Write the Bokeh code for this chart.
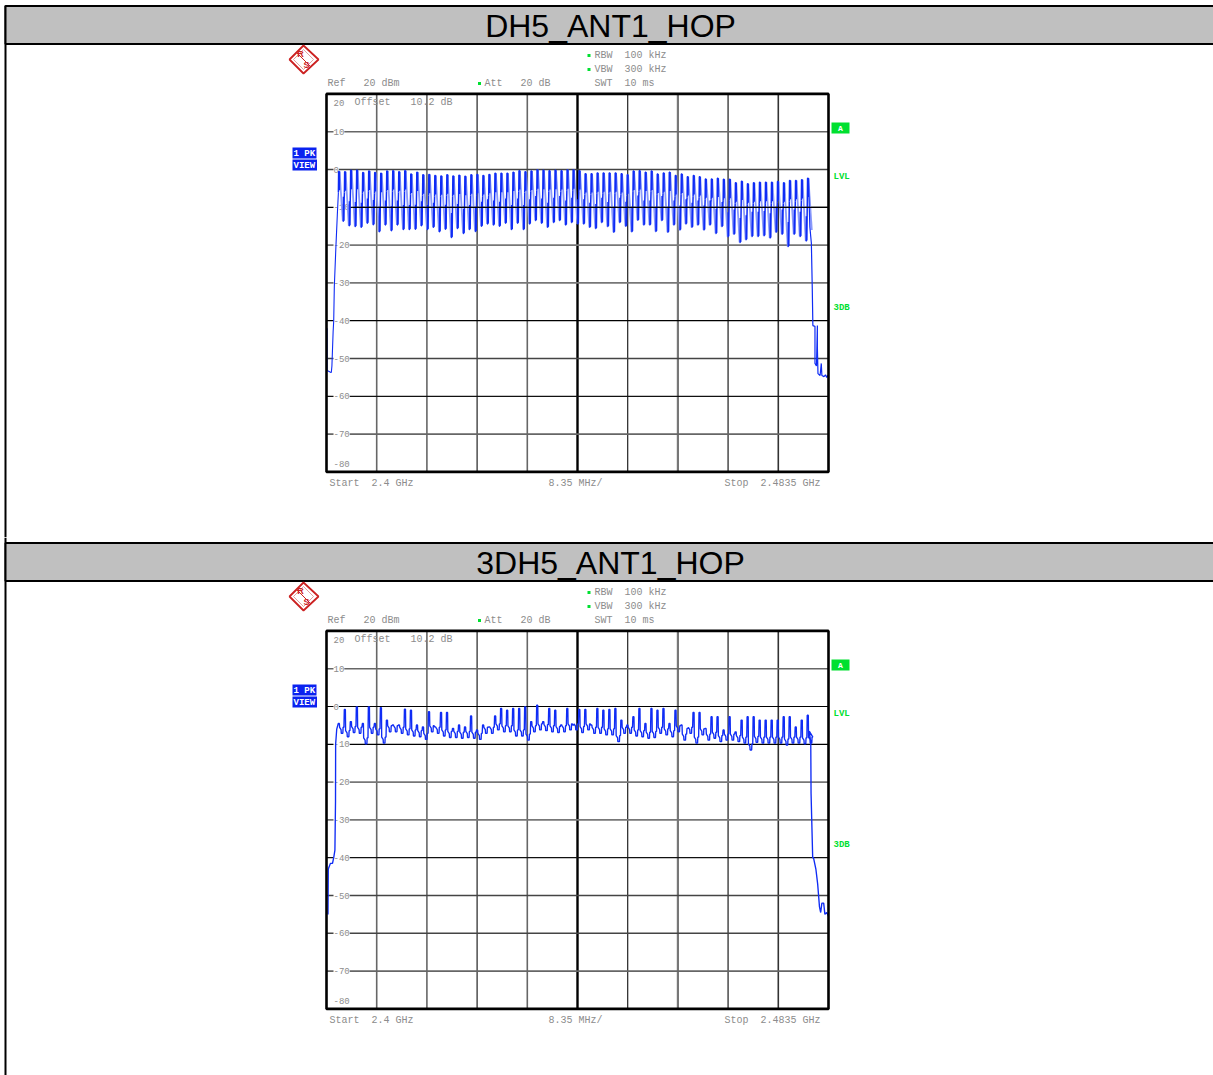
from bokeh.plotting import figure
from bokeh.layouts import column
from bokeh.models import Range1d
from bokeh.core.properties import value
from bokeh.embed import file_html
from bokeh.resources import INLINE

titles = ["DH5_ANT1_HOP", "3DH5_ANT1_HOP"]
start_ghz = 2.4
stop_ghz = 2.4835
first_channel_ghz = 2.402
channel_step_ghz = 0.001

grid_freqs = [2.40835, 2.4167, 2.42505, 2.4334, 2.44175, 2.4501, 2.45845, 2.4668, 2.47515]
grid_levels = [10, 0, -10, -20, -30, -40, -50, -60, -70]
tick_levels = [20, 10, 0, -10, -20, -30, -40, -50, -60, -70, -80]
tick_labels = ["20", "10", "0", "-10", "-20", "-30", "-40", "-50", "-60", "-70", "-80"]

top_peaks = [-0.5, -0.6, -0.2, -0.2, -0.8, -0.4, -0.8, -1.0, -0.4, -0.3,
             -0.6, -0.3, -1.2, -0.7, -1.4, -1.3, -1.6, -1.7, -1.4, -1.7,
             -1.5, -1.8, -1.4, -1.3, -1.6, -1.3, -1.0, -1.0, -1.0, -0.7,
             -0.3, -0.6, -0.4, -0.1, -0.2, -0.3, -0.2, -0.3, -0.1, -0.1,
             -0.3, -1.1, -1.1, -0.9, -0.9, -0.9, -0.9, -1.1, -1.4, -0.4,
             -0.3, -0.7, -0.4, -1.2, -0.9, -0.7, -1.6, -1.2, -1.9, -1.6,
             -1.9, -2.5, -2.5, -2.3, -2.6, -2.6, -3.5, -3.1, -3.8, -3.5,
             -3.4, -3.4, -3.4, -3.2, -3.5, -2.9, -2.9, -2.7, -2.3]
top_troughs = [-13.7, -14.9, -15.1, -15.3, -14.2, -14.6, -16.5, -14.7, -16.2, -14.7,
               -15.9, -15.9, -15.8, -14.9, -15.9, -15.3, -16.5, -15.8, -18.0, -15.6,
               -16.9, -15.9, -16.4, -15.0, -14.4, -14.7, -15.0, -14.2, -15.9, -14.2,
               -15.9, -14.4, -13.5, -14.2, -15.3, -14.0, -13.5, -14.7, -14.0, -14.4,
               -14.4, -15.3, -15.6, -14.0, -15.1, -16.6, -14.0, -15.0, -16.5, -13.4,
               -14.7, -14.7, -16.4, -13.5, -16.6, -14.7, -16.0, -14.4, -15.3, -14.7,
               -16.0, -14.7, -16.9, -15.1, -17.8, -17.1, -19.3, -18.6, -17.7, -17.7,
               -17.5, -18.1, -16.6, -17.1, -20.4, -17.1, -17.7, -18.9, -16.0]
top_lead_mhz = [0.1, 0.1, 0.6, 0.8, 0.9, 1.1, 1.2, 1.3, 1.55, 1.8]
top_lead_db = [-42.0, -53.2, -53.6, -53.7, -52.0, -43.0, -40.0, -31.0, -21.0, -12.0]
top_tail_mhz = [80.4, 80.65, 80.8, 80.9, 81.25, 81.25, 81.5, 81.65, 81.65, 81.75, 82.1, 82.3, 82.4, 82.75, 83.0, 83.2, 83.4, 83.5]
top_tail_db = [-15.2, -19.5, -31.5, -41.3, -41.5, -51.3, -52.0, -41.3, -47.0, -54.0, -54.5, -51.3, -54.5, -54.8, -54.3, -55.0, -54.4, -55.0]

bot_peaks = [-4.5, -0.8, -4.0, -0.1, -4.5, -0.1, -4.5, -0.3, -3.6, -4.9,
             -4.9, -0.7, -1.0, -4.9, -5.4, -1.4, -5.4, -1.6, -1.6, -5.8,
             -4.9, -5.4, -2.5, -6.2, -4.9, -5.4, -2.5, -0.5, -1.0, -0.5,
             -0.5, -0.1, -4.0, 0.35, -4.0, -0.5, -1.0, -4.9, -0.5, -4.9,
             -0.8, -0.8, -4.9, -0.5, -1.0, -0.8, -0.5, -3.6, -4.9, -2.7,
             -0.5, -4.5, -0.5, -1.0, -0.5, -4.5, -1.0, -4.9, -5.8, -1.6,
             -1.6, -5.8, -2.7, -2.7, -6.2, -2.7, -6.7, -3.6, -2.7, -2.7,
             -3.6, -3.6, -3.6, -3.6, -2.7, -2.7, -5.4, -3.6, -2.3]
bot_lows = [-7.1, -8.0, -6.9, -7.1, -9.9, -7.1, -7.5, -9.7, -6.7, -6.7,
            -7.1, -7.5, -7.8, -8.0, -8.7, -6.7, -7.1, -7.8, -8.2, -8.2,
            -8.4, -8.2, -8.4, -8.7, -7.1, -7.1, -6.2, -6.7, -6.7, -7.8,
            -7.8, -8.9, -6.7, -6.2, -6.4, -6.7, -6.9, -6.7, -6.2, -6.2,
            -6.9, -6.2, -7.1, -7.1, -7.5, -7.5, -9.3, -7.1, -7.1, -7.8,
            -8.0, -8.4, -8.2, -7.1, -7.5, -8.0, -6.7, -8.9, -7.1, -9.7,
            -7.5, -8.9, -8.4, -9.3, -8.9, -8.9, -9.3, -9.7, -11.5, -9.5,
            -9.7, -9.7, -9.7, -9.7, -10.2, -9.7, -9.7, -9.9, -9.7]
bot_lead_mhz = [0.25, 0.3, 0.65, 1.0, 1.2, 1.4, 1.5, 1.52, 1.7]
bot_lead_db = [-55.0, -43.0, -41.5, -41.5, -40.0, -38.0, -25.0, -10.0, -6.0]
bot_tail_mhz = [80.3, 80.55, 80.6, 80.87, 81.0, 81.4, 81.7, 82.0, 82.2, 82.4, 82.7, 82.9, 83.2, 83.5]
bot_tail_db = [-6.5, -9.5, -23.0, -40.0, -40.0, -43.0, -47.0, -53.0, -54.5, -52.0, -52.0, -55.0, -54.5, -55.5]

C_TRACE = "#0f2cf5"
C_LIGHT = "#8a9afb"
C_TEXT = "#8c8c8c"
C_GREEN = "#00e030"
C_BLUE = "#0a22f0"
C_RED = "#cc2222"
MONO = "Liberation Mono"

V_COLORS = ["#666666", "#666666", "#222222", "#666666", "#000000", "#222222", "#777777", "#555555", "#333333"]
V_WIDTHS = [1.6, 1.6, 1.2, 1.6, 2.4, 1.2, 2.2, 1.6, 1.6]
H_COLORS = [["#666666", "#444444", "#000000", "#777777", "#777777", "#000000", "#444444", "#111111", "#666666"],
            ["#666666", "#000000", "#000000", "#777777", "#777777", "#111111", "#444444", "#444444", "#666666"]]
H_WIDTHS = [[1.6, 1.5, 1.2, 1.8, 1.8, 1.2, 1.5, 1.2, 1.6],
            [1.6, 1.2, 1.2, 1.8, 1.8, 1.2, 1.5, 1.5, 1.6]]

FL, FR, FT, FB = 326, 828, 93.4, 471.4   # where the instrument screen sits, in figure pixels


def X(px):
    return start_ghz + (px - FL) / (FR - FL) * (stop_ghz - start_ghz)


def Y(py):
    return 20 - (py - FT) / (FB - FT) * 100


def mhz(values):
    return [start_ghz + m / 1000 for m in values]


def text(p, s, px, py, size=10, color=C_TEXT, font=MONO, align="left", style="normal"):
    p.text(x=[X(px)], y=[Y(py)], text=[s], text_font=value(font), text_font_size=f"{size}px",
           text_color=color, text_align=align, text_baseline="middle", text_font_style=style)


def box(p, l, r, t, b, fill, line=None, lw=0):
    p.quad(left=[X(l)], right=[X(r)], top=[Y(t)], bottom=[Y(b)], fill_color=fill,
           line_color=line, line_width=lw)


def draw_top_trace(p):
    m = channel_step_ghz
    fall_x0, fall_x1, fall_y0, fall_y1 = [], [], [], []
    dark_x, dark_y = [], []
    n = len(top_peaks)
    for i in range(n):
        f = first_channel_ghz + i * m
        pk, tr = top_peaks[i], top_troughs[i]
        fall_x0.append(f + .16 * m)
        fall_x1.append(f + .72 * m)
        fall_y0.append(pk)
        fall_y1.append(tr)
        dark_x.append([f - .02 * m, f + .02 * m, f + .12 * m, f + .14 * m, f + .16 * m])
        dark_y.append([pk - 5.5, pk, pk, pk - 5.0, pk])
        if i < n - 1:
            nxt = top_peaks[i + 1]
            dark_x.append([f + .72 * m, f + .80 * m, f + .82 * m, f + .84 * m, f + .90 * m, f + .94 * m, f + .98 * m])
            dark_y.append([tr, tr, tr + 6.5, tr + .2, tr + .2, tr + 6.0, nxt - 5.5])
    p.segment(x0=fall_x0, x1=fall_x1, y0=fall_y0, y1=fall_y1, line_color=C_LIGHT, line_width=1.8)
    p.multi_line(dark_x, dark_y, line_color=C_TRACE, line_width=1.5, line_join="bevel")
    p.line(mhz(top_lead_mhz) + [first_channel_ghz - .02 * m], top_lead_db + [top_peaks[0] - 5.5],
           line_color=C_TRACE, line_width=1.1, line_join="bevel")
    last = first_channel_ghz + (n - 1) * m
    p.line([last + .16 * m] + mhz(top_tail_mhz), [top_peaks[-1]] + top_tail_db, line_color=C_TRACE,
           line_width=1.2, line_join="bevel")
    # the reference level line stays visible through the trace
    p.segment(x0=[X(352)], x1=[stop_ghz], y0=[-10], y1=[-10], line_color="#000000", line_width=1.2)


def draw_bot_trace(p):
    m = channel_step_ghz
    xs = mhz(bot_lead_mhz)
    ys = list(bot_lead_db)
    for i, (pk, lo) in enumerate(zip(bot_peaks, bot_lows)):
        f = first_channel_ghz + i * m
        sh = lo + 1.6
        xs += [f - .04 * m, f + .14 * m, f + .18 * m, f + .42 * m, f + .46 * m, f + .72 * m, f + .76 * m, f + .9 * m]
        ys += [pk, pk, sh, sh - .6, lo, lo, sh, sh]
    xs += mhz(bot_tail_mhz)
    ys += bot_tail_db
    p.line(xs, ys, line_color=C_TRACE, line_width=1.35, line_join="bevel")


def panel(idx, height):
    p = figure(width=1213, height=height, output_backend="svg", toolbar_location=None,
               x_range=Range1d(X(0), X(1213)), y_range=Range1d(Y(height), Y(0)),
               min_border=0, x_axis_type=None, y_axis_type=None,
               outline_line_color=None, background_fill_color="white", border_fill_color="white")
    p.grid.visible = False

    # grid
    p.segment(x0=grid_freqs, x1=grid_freqs, y0=[-80] * 9, y1=[20] * 9, line_color=V_COLORS, line_width=V_WIDTHS)
    p.segment(x0=[start_ghz] * 9, x1=[stop_ghz] * 9, y0=grid_levels, y1=grid_levels,
              line_color=H_COLORS[idx], line_width=H_WIDTHS[idx])

    # level labels inside the screen
    offs = [9 if t == 20 else -8 if t == -80 else 0 for t in tick_levels]
    p.text(x=[X(333)] * 11, y=tick_levels, text=tick_labels, text_font=value(MONO), text_font_size="9px",
           text_color=C_TEXT, text_align="left", text_baseline="middle", y_offset=offs,
           background_fill_color="white")

    # trace
    if idx == 0:
        draw_top_trace(p)
    else:
        draw_bot_trace(p)

    # screen frame
    p.quad(left=[start_ghz], right=[stop_ghz], top=[20], bottom=[-80], fill_alpha=0, line_color="black", line_width=2.6)

    # page rule and header band
    box(p, 4, 6, 0 if idx else 5, height + 2, "black")
    box(p, 5, 1225, 5.5, 43.5, "#c0c0c0", "black", 2)
    text(p, titles[idx], 610, 25, size=32, color="black", font="Liberation Sans", align="center")

    # logo
    p.patch([X(289), X(303), X(318), X(303)], [Y(59), Y(45), Y(59), Y(73)], fill_color="white",
            line_color=C_RED, line_width=1.8)
    p.patch([X(293), X(303), X(313), X(303)], [Y(59), Y(49), Y(59), Y(69)], fill_alpha=0,
            line_color="#dd8888", line_width=0.8)
    p.line([X(296), X(310)], [Y(52), Y(66)], line_color=C_RED, line_width=1)
    text(p, "R", 300, 53, size=9, color=C_RED, font="Liberation Sans", align="center", style="bold")
    text(p, "S", 306, 64, size=9, color=C_RED, font="Liberation Sans", align="center", style="bold")

    # header texts
    text(p, "Ref\u00a0\u00a0\u00a020\u00a0dBm", 327, 83)
    text(p, "Att\u00a0\u00a0\u00a020\u00a0dB", 484, 83)
    text(p, "RBW\u00a0\u00a0100\u00a0kHz", 594, 55)
    text(p, "VBW\u00a0\u00a0300\u00a0kHz", 594, 69)
    text(p, "SWT\u00a0\u00a010\u00a0ms", 594, 83)
    text(p, "Offset", 354, 102)
    text(p, "10.2\u00a0dB", 410, 102)
    for gx, gy in [(588.5, 55), (588.5, 69), (479, 83)]:
        box(p, gx - 1.5, gx + 1.5, gy - 1.5, gy + 1.5, C_GREEN)

    # footer texts
    text(p, "Start\u00a0\u00a02.4\u00a0GHz", 329, 483)
    text(p, "8.35\u00a0MHz/", 548, 483)
    text(p, "Stop\u00a0\u00a02.4835\u00a0GHz", 724, 483)

    # side flags
    box(p, 292, 316, 147, 158, C_BLUE)
    box(p, 292, 316.5, 159, 170, C_BLUE)
    text(p, "1\u00a0PK", 293, 153, size=9, color="white", style="bold")
    text(p, "VIEW", 293, 165, size=9, color="white", style="bold")
    box(p, 831, 849, 122, 133, C_GREEN)
    text(p, "A", 840, 128, size=8, color="white", align="center", style="bold")
    text(p, "LVL", 833, 176, size=9, color=C_GREEN, style="bold")
    text(p, "3DB", 833, 307, size=9, color=C_GREEN, style="bold")
    return p


page = column(panel(0, 537), panel(1, 538), spacing=0)
open("out.html", "w").write(file_html(page, INLINE))
